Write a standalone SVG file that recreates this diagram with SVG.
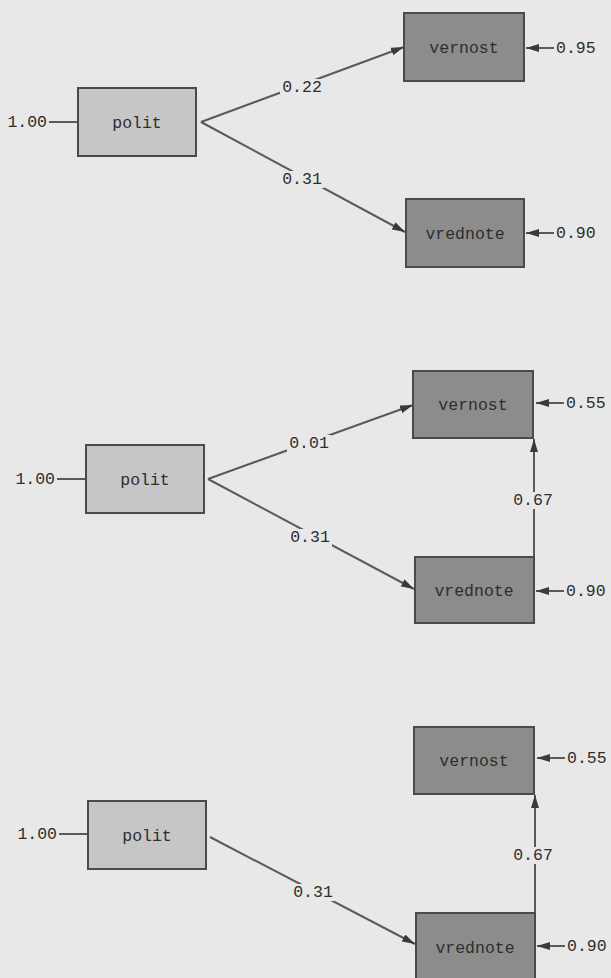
<svg xmlns="http://www.w3.org/2000/svg" width="611" height="978" viewBox="0 0 611 978">
<style>
.bg{fill:#e8e8e8}
.box{stroke:#4a4a4a;stroke-width:2}
.ex{fill:#c6c6c6}
.en{fill:#8c8c8c}
text{font-family:"Liberation Mono","DejaVu Sans Mono",monospace;font-size:16.5px;fill:#2e2e2e;dominant-baseline:central}
.nm{text-anchor:middle}
.lb{text-anchor:middle}
.lbg{fill:#e8e8e8}
.ln{stroke:#5a5a5a;stroke-width:2;fill:none}
.ar{marker-end:url(#ah)}
</style>
<defs>
<marker id="ah" markerUnits="userSpaceOnUse" markerWidth="13" markerHeight="8" refX="13" refY="4" orient="auto">
<path d="M0,0 L13,4 L0,8 z" fill="#3a3a3a"/>
</marker>
</defs>
<rect class="bg" x="0" y="0" width="611" height="978"/>

<g id="connectors">
<!-- diagram 1 -->
<line class="ln" x1="49" y1="122" x2="78" y2="122"/>
<line class="ln ar" x1="201" y1="122" x2="404" y2="47"/>
<line class="ln ar" x1="201" y1="122" x2="405" y2="232"/>
<line class="ln ar" x1="554" y1="48" x2="526" y2="48"/>
<line class="ln ar" x1="554" y1="233" x2="526" y2="233"/>
<!-- diagram 2 -->
<line class="ln" x1="57" y1="479" x2="86" y2="479"/>
<line class="ln ar" x1="208" y1="479" x2="413" y2="405"/>
<line class="ln ar" x1="208" y1="479" x2="414" y2="589"/>
<line class="ln ar" x1="534" y1="557" x2="534" y2="439"/>
<line class="ln ar" x1="564" y1="403" x2="536" y2="403"/>
<line class="ln ar" x1="564" y1="591" x2="536" y2="591"/>
<!-- diagram 3 -->
<line class="ln" x1="59" y1="834" x2="88" y2="834"/>
<line class="ln ar" x1="210" y1="837" x2="415" y2="944"/>
<line class="ln ar" x1="535" y1="913" x2="535" y2="795"/>
<line class="ln ar" x1="565" y1="758" x2="537" y2="758"/>
<line class="ln ar" x1="565" y1="946" x2="537" y2="946"/>
</g>

<g id="labels">
<rect class="lbg" x="280" y="79" width="44" height="17"/>
<rect class="lbg" x="280" y="171" width="44" height="17"/>
<rect class="lbg" x="287" y="435" width="44" height="17"/>
<rect class="lbg" x="288" y="529" width="44" height="17"/>
<rect class="lbg" x="511" y="492" width="44" height="17"/>
<rect class="lbg" x="291" y="884" width="44" height="17"/>
<rect class="lbg" x="511" y="847" width="44" height="17"/>
<text x="47" y="122" style="text-anchor:end">1.00</text>
<text class="lb" x="302" y="87">0.22</text>
<text class="lb" x="302" y="179">0.31</text>
<text x="556" y="48">0.95</text>
<text x="556" y="233">0.90</text>

<text x="55" y="479" style="text-anchor:end">1.00</text>
<text class="lb" x="309" y="443">0.01</text>
<text class="lb" x="310" y="537">0.31</text>
<text class="lb" x="533" y="500">0.67</text>
<text x="566" y="403">0.55</text>
<text x="566" y="591">0.90</text>

<text x="57" y="834" style="text-anchor:end">1.00</text>
<text class="lb" x="313" y="892">0.31</text>
<text class="lb" x="533" y="855">0.67</text>
<text x="567" y="758">0.55</text>
<text x="567" y="946">0.90</text>
</g>

<g id="d1-polit"><rect class="box ex" x="78" y="88" width="118" height="68"/><text class="nm" x="137" y="123">polit</text></g>
<g id="d1-vernost"><rect class="box en" x="404" y="13" width="120" height="68"/><text class="nm" x="464" y="48">vernost</text></g>
<g id="d1-vrednote"><rect class="box en" x="406" y="199" width="118" height="68"/><text class="nm" x="465" y="234">vrednote</text></g>

<g id="d2-polit"><rect class="box ex" x="86" y="445" width="118" height="68"/><text class="nm" x="145" y="480">polit</text></g>
<g id="d2-vernost"><rect class="box en" x="413" y="371" width="120" height="67"/><text class="nm" x="473" y="405">vernost</text></g>
<g id="d2-vrednote"><rect class="box en" x="415" y="557" width="119" height="66"/><text class="nm" x="474" y="591">vrednote</text></g>

<g id="d3-polit"><rect class="box ex" x="88" y="801" width="118" height="68"/><text class="nm" x="147" y="836">polit</text></g>
<g id="d3-vernost"><rect class="box en" x="414" y="727" width="120" height="67"/><text class="nm" x="474" y="761">vernost</text></g>
<g id="d3-vrednote"><rect class="box en" x="416" y="913" width="119" height="70"/><text class="nm" x="475" y="948">vrednote</text></g>
</svg>
